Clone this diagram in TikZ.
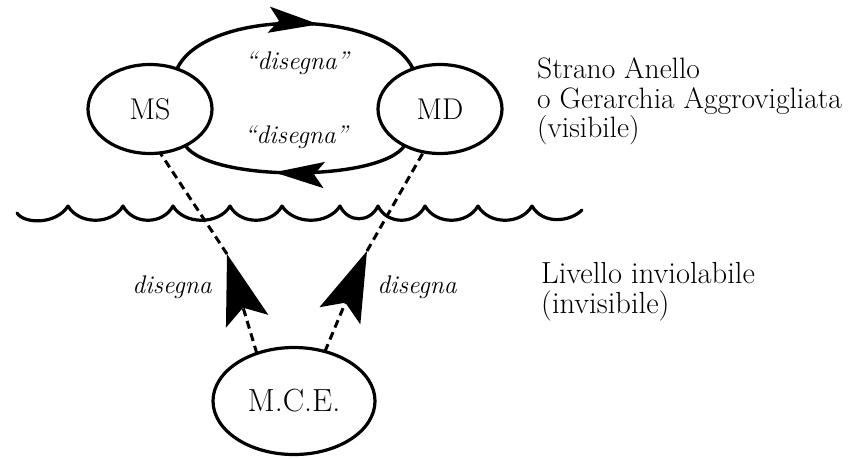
\documentclass[tikz,border=0pt]{standalone}
\usepackage{fontspec}
\usetikzlibrary{shapes.geometric,arrows.meta,decorations.markings}
\begin{document}
\begin{tikzpicture}[x=1pt,y=-1pt,
  oval/.style={draw, ellipse, line width=3.2pt, inner sep=0pt, outer sep=0pt},
  loopline/.style={line width=3.4pt},
  dashline/.style={line width=3pt, dash pattern=on 8pt off 5pt},
  bighead/.style={-{Stealth[length=70pt,width=44pt,inset=14pt]}},
  lbl/.style={font=\fontsize{25.5}{28}\selectfont\itshape, inner sep=0pt, anchor=base},
  sidetext/.style={font=\fontsize{29.5}{32}\selectfont, inner sep=0pt, anchor=base west},
  sidetextb/.style={font=\fontsize{30.5}{32}\selectfont, inner sep=0pt, anchor=base west},
  wave/.style={line width=3.2pt, line join=round, line cap=round},
  midarrow/.style={postaction={decorate}, decoration={markings,
    mark=at position #1 with {\arrow{Stealth[length=50pt,width=26pt,inset=10pt]}}}}
]
\useasboundingbox (0,0) rectangle (848,458);

% nodes
\node[oval, minimum width=124pt, minimum height=89pt, font=\fontsize{30}{32}\selectfont] (MS) at (150,109) {MS};
\node[oval, minimum width=124pt, minimum height=89pt, font=\fontsize{30}{32}\selectfont] (MD) at (440,109) {MD};
\node[oval, minimum width=162pt, minimum height=107pt, font=\fontsize{32}{34}\selectfont] (MCE) at (294,401) {M.C.E.};

% loop
\draw[loopline, midarrow=0.59] (MS.56) .. controls (205,8) and (385,8) .. (MD.124);
\draw[loopline, midarrow=0.59] (MD.226) .. controls (380,182) and (210,182) .. (MS.314);

% dashed connectors with big heads
\coordinate (tipL) at (227,254);
\coordinate (tipR) at (367,251);
\draw[dashline, bighead] (MCE.128) -- (tipL);
\draw[dashline] (tipL) -- (MS.283);
\draw[dashline, bighead] (MCE.58) -- (tipR);
\draw[dashline] (tipR) -- (MD.249);

% wave
\draw[wave] (17,213) .. controls (24,224) and (56,225) .. (68,206)
  .. controls (79,225) and (112,225) .. (123,206)
  .. controls (133,225) and (163,225) .. (173,206)
  .. controls (184,225) and (219,225) .. (230,206)
  .. controls (240,225) and (272,225) .. (282,206)
  .. controls (294,225) and (328,225) .. (340,206)
  .. controls (348,223) and (370,223) .. (378,206)
  .. controls (387,225) and (416,225) .. (425,206)
  .. controls (436,225) and (467,225) .. (478,206)
  .. controls (489,225) and (521,225) .. (532,206)
  .. controls (543,225) and (570,222) .. (582,210);

% labels
\node[lbl] (l1) at (297,69) {``disegna''};
\node[lbl] (l2) at (296,143) {``disegna''};
\node[lbl] (l3) at (172,293) {disegna};
\node[lbl] (l4) at (417,293) {disegna};

\node[sidetext] (s1) at (537,78) {Strano Anello};
\node[sidetext] (s2) at (537,108) {o Gerarchia Aggrovigliata};
\node[sidetext] (s3) at (537,137) {(visibile)};
\node[sidetextb] (s4) at (541,283) {Livello inviolabile};
\node[sidetextb] (s5) at (541,313) {(invisibile)};
\end{tikzpicture}
\end{document}
